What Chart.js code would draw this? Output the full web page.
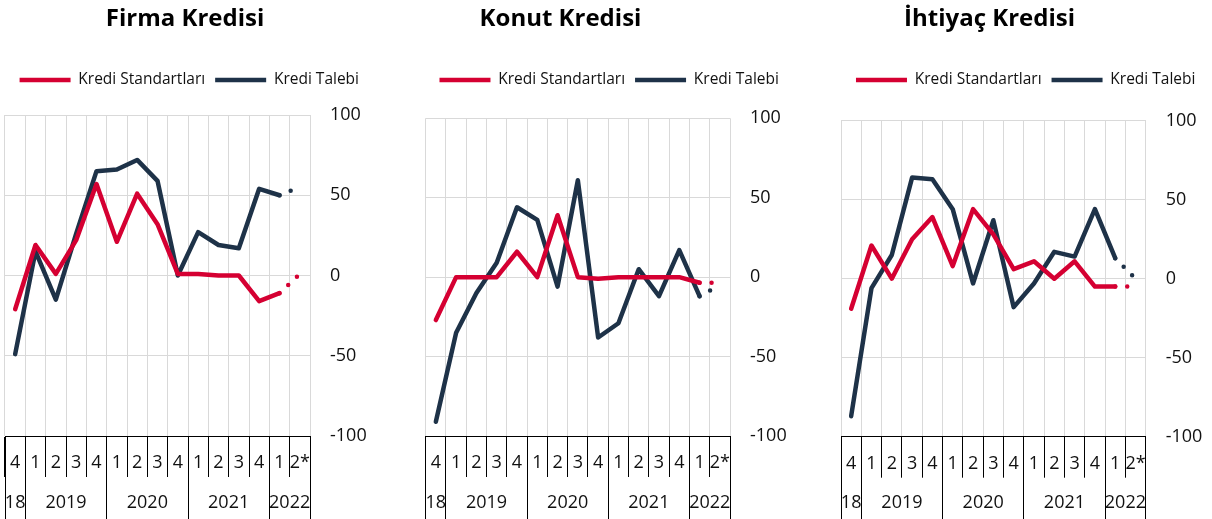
<!DOCTYPE html>
<html lang="tr">
<head>
<meta charset="utf-8">
<title>Kredi Standartları ve Kredi Talebi</title>
<script src="https://cdn.jsdelivr.net/npm/chart.js@4.4.1/dist/chart.umd.min.js"></script>
<style>
  html, body { margin: 0; padding: 0; background: #fff; }
  #wrap { position: relative; width: 1212px; height: 519px; overflow: hidden; }
  #wrap canvas { position: absolute; top: 0; }
  .ttl {
    position: absolute; top: 4.5px; transform: translateX(-50%); white-space: nowrap;
    font: bold 24px/24px "Open Sans", sans-serif; color: #000;
  }
</style>
</head>
<body>
<div id="wrap">
  <canvas id="c1" width="404" height="519" style="left:0px"></canvas>
  <canvas id="c2" width="400" height="519" style="left:410px"></canvas>
  <canvas id="c3" width="400" height="519" style="left:812px"></canvas>
</div>
<script>
// ── data ─────────────────────────────────────────────────────
const quarters   = ['4', '1', '2', '3', '4', '1', '2', '3', '4', '1', '2', '3', '4', '1', '2*'];
const yearLabels = ['18', '2019', '2020', '2021', '2022'];
const yearSpans  = [1, 4, 4, 4, 2];
const yTicks     = [-100, -50, 0, 50, 100];

const titles = ['Firma Kredisi', 'Konut Kredisi', 'İhtiyaç Kredisi'];
const seriesNames = ['Kredi Standartları', 'Kredi Talebi'];

const firmaStandart   = [-21, 19, 1, 22, 57, 21, 51, 32, 1, 1, 0, 0, -16, -11, 1];
const firmaTalep      = [-49, 15, -15, 26, 65, 66, 72, 59, 0, 27, 19, 17, 54, 50, 55];
const konutStandart   = [-27, 0, 0, 0, 16, 0, 39, 0, -1, 0, 0, 0, 0, -3.5, -3.5];
const konutTalep      = [-91, -35, -10, 9, 44, 36, -6, 61, -38, -29, 5, -12, 17, -12, -5];
const ihtiyacStandart = [-19, 21, 0, 25, 39, 8, 44, 28, 6, 11, 0, 11, -5, -5, -5];
const ihtiyacTalep    = [-87, -6, 15, 64, 63, 44, -3, 37, -18, -3, 17, 14, 44, 13, 0];

// ── style / layout ───────────────────────────────────────────
const RED  = '#D50032';
const NAVY = '#1E3248';
const GRID = '#D9D9D9';
const INK  = '#111';

Chart.defaults.font.family = '"Open Sans", sans-serif';
Chart.defaults.color = INK;

// per panel: canvas left, layout paddings, y axis width, plot top/bottom, title centre
const panels = [
  { id: 'c1', left: 0,   padL: 5,    padR: 30.4, axisW: 63.6, top: 115,   bottom: 436,   titleX: 185,   std: firmaStandart,   dem: firmaTalep },
  { id: 'c2', left: 410, padL: 15.7, padR: 17.3, axisW: 62.7, top: 118.3, bottom: 436,   titleX: 560.5, std: konutStandart,   dem: konutTalep },
  { id: 'c3', left: 812, padL: 29,   padR: 1.6,  axisW: 64.7, top: 120.7, bottom: 436.7, titleX: 989.5, std: ihtiyacStandart, dem: ihtiyacTalep },
];

const LEGEND_FONT = 15.5, LEGEND_PAD = 10, LEGEND_Y = 80;
const LAST = quarters.length - 1;

// legend gets extra room underneath so the plot starts lower
const legendGap = {
  id: 'legendGap',
  afterInit(chart, args, opts) {
    const fit = chart.legend.fit;
    chart.legend.fit = function () { fit.call(this); this.height += opts.extra; };
  }
};

// second row of the x axis: years and their separators
const yearAxis = {
  id: 'yearAxis',
  afterDraw(chart) {
    const x = chart.scales.x, ctx = chart.ctx;
    const align = p => Math.round(p - 0.5) + 0.5;
    ctx.save();
    ctx.strokeStyle = '#000';
    ctx.lineWidth = 1;
    ctx.fillStyle = INK;
    ctx.font = '18px "Open Sans", sans-serif';
    ctx.textAlign = 'center';
    ctx.textBaseline = 'middle';
    let start = 0;
    const edges = [];
    yearLabels.forEach((lbl, k) => {
      const span = yearSpans[k];
      edges.push(start - 0.5);
      ctx.fillText(lbl, x.getPixelForValue(start + (span - 1) / 2), 503.3);
      start += span;
    });
    edges.push(start - 0.5);
    edges.forEach(v => {
      const px = align(x.getPixelForValue(v));
      ctx.beginPath();
      ctx.moveTo(px, x.top);
      ctx.lineTo(px, chart.height);
      ctx.stroke();
    });
    ctx.restore();
  }
};

function lineSet(label, data, color) {
  return {
    label, data,
    borderColor: color,
    backgroundColor: color,
    borderWidth: 4.5,
    borderCapStyle: 'round',
    borderJoinStyle: 'round',
    pointRadius: 0,
    pointHoverRadius: 0,
    tension: 0,
    // last quarter is an expectation: dotted
    segment: { borderDash: c => c.p1DataIndex === LAST ? [0, 12] : undefined },
  };
}

panels.forEach((p, i) => {
  const t = document.createElement('div');
  t.className = 'ttl';
  t.style.left = p.titleX + 'px';
  t.textContent = titles[i];
  document.getElementById('wrap').appendChild(t);

  const padTop = LEGEND_Y - LEGEND_PAD - LEGEND_FONT / 2;
  const legendH = LEGEND_FONT + LEGEND_PAD + 10;
  const xAxisH = 519 - p.bottom;

  new Chart(document.getElementById(p.id), {
    type: 'line',
    data: {
      labels: quarters,
      datasets: [
        lineSet(seriesNames[0], p.std, RED),
        lineSet(seriesNames[1], p.dem, NAVY),
      ]
    },
    plugins: [legendGap, yearAxis],
    options: {
      responsive: false,
      devicePixelRatio: 1,
      animation: false,
      events: [],
      layout: { padding: { top: padTop, left: p.padL, right: p.padR, bottom: 0 } },
      plugins: {
        legendGap: { extra: p.top - padTop - legendH },
        tooltip: { enabled: false },
        legend: {
          position: 'top',
          labels: {
            usePointStyle: true,
            pointStyle: 'line',
            pointStyleWidth: 51,
            padding: LEGEND_PAD,
            color: INK,
            font: { size: LEGEND_FONT },
          }
        }
      },
      scales: {
        x: {
          offset: true,
          grid: {
            offset: true,
            color: GRID,
            lineWidth: 1,
            drawTicks: true,
            tickLength: 41,
            tickColor: '#000',
          },
          border: { display: true, color: '#000', width: 1 },
          ticks: {
            autoSkip: false,
            maxRotation: 0,
            minRotation: 0,
            padding: -24.5,
            color: INK,
            font: { size: 18 },
          },
          afterFit: s => { s.height = xAxisH; },
        },
        y: {
          position: 'right',
          min: yTicks[0],
          max: yTicks[yTicks.length - 1],
          afterBuildTicks: s => { s.ticks = yTicks.map(v => ({ value: v })); },
          grid: {
            drawTicks: false,
            color: c => (c.tick && c.tick.value === yTicks[0]) ? 'rgba(0,0,0,0)' : GRID,
          },
          border: { display: false },
          ticks: { padding: 20, color: INK, font: { size: 18 } },
          afterFit: s => { s.width = p.axisW; },
        }
      }
    }
  });
});
</script>
</body>
</html>
